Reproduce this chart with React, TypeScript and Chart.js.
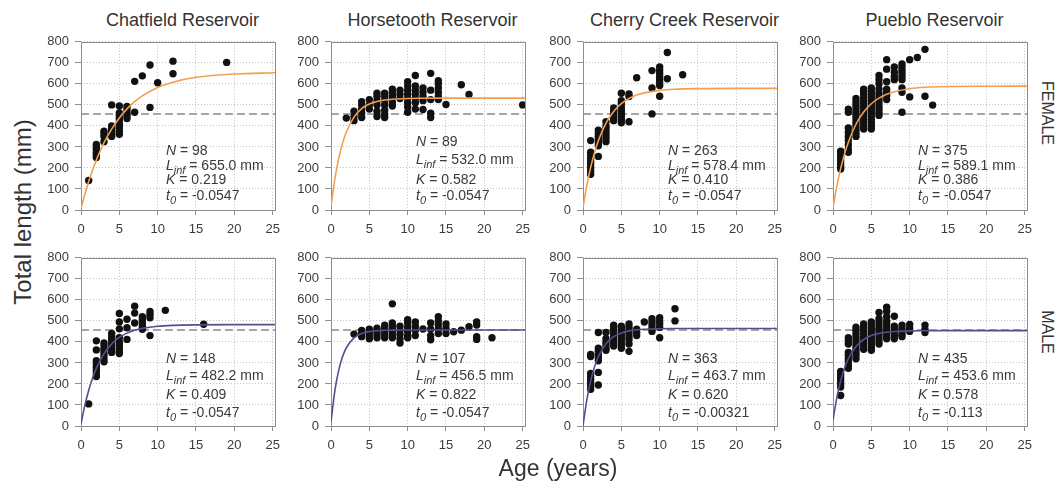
import React, { useEffect, useRef } from "react";
import { Chart, registerables } from "chart.js";

Chart.register(...registerables);

type Group = [number, number[]];

// ---------- data ----------
const AGE_TICKS = [0, 5, 10, 15, 20, 25];
const LENGTH_TICKS = [0, 100, 200, 300, 400, 500, 600, 700, 800];
const X_MAX = 25.3;
const LEGAL_LENGTH = 457;
const CURVE_AGES = [0, 0.5, 1, 1.5, 2, 3, 4, 5, 6, 7, 8, 10, 12, 15, 20, 25.3];

const chatfieldFemale: Group[] = [
  [1, [140]],
  [2, [250, 262, 275, 288, 300, 312]],
  [3, [325, 350, 362, 375]],
  [4, [350, 362, 375, 388, 400, 500]],
  [5, [360, 375, 390, 405, 420, 435, 450, 462, 495]],
  [6, [435, 450, 465, 480, 492]],
  [7, [465, 612]],
  [8, [638]],
  [9, [488, 690]],
  [10, [605]],
  [12, [648, 708]],
  [19, [702]],
];
const horsetoothFemale: Group[] = [
  [2, [437]],
  [3, [425, 445, 470]],
  [4, [440, 460, 480, 500, 515]],
  [5, [480, 500, 525]],
  [6, [445, 470, 500, 520, 540, 555]],
  [7, [440, 455, 475, 500, 520, 540, 555]],
  [8, [495, 510, 530, 545, 560, 575]],
  [9, [530, 550, 570]],
  [10, [465, 490, 510, 530, 550, 570, 590, 610]],
  [11, [480, 510, 530, 550, 570, 590, 640]],
  [12, [478, 520, 540, 560, 580]],
  [13, [440, 460, 525, 570, 650]],
  [14, [525, 540, 560, 580, 600, 615]],
  [15, [502]],
  [17, [596]],
  [18, [549]],
  [25, [500]],
];
const cherryFemale: Group[] = [
  [1, [170, 185, 200, 215, 230, 245, 260, 275, 330]],
  [2, [255, 305, 320, 335, 350, 365, 380]],
  [3, [325, 340, 355, 370, 385, 400, 420]],
  [4, [425, 440, 455, 470, 485]],
  [5, [415, 430, 445, 460, 475, 490, 505, 520, 555]],
  [6, [420, 540, 552]],
  [7, [629]],
  [9, [457, 580, 663]],
  [10, [541, 592, 605, 620, 635, 650, 665, 680]],
  [11, [624, 749]],
  [13, [643]],
];
const puebloFemale: Group[] = [
  [1, [195, 205, 220, 235, 250, 265, 280]],
  [2, [275, 290, 310, 330, 350, 370, 390, 465, 480]],
  [3, [350, 365, 380, 395, 410, 425, 440, 455, 470, 485, 500, 515, 530]],
  [4, [385, 400, 415, 430, 445, 460, 475, 490, 505, 520, 535, 550, 565, 575]],
  [5, [385, 400, 415, 430, 445, 460, 475, 490, 505, 520, 535, 550, 565, 580]],
  [6, [450, 465, 480, 495, 510, 525, 540, 555, 575, 600, 620, 640]],
  [7, [525, 545, 560, 575, 610, 670, 715]],
  [8, [620, 635, 655, 680]],
  [9, [465, 560, 580, 620, 635, 650, 665, 680, 695]],
  [10, [538, 715]],
  [11, [725]],
  [12, [541, 764]],
  [13, [499]],
];
const chatfieldMale: Group[] = [
  [1, [105]],
  [2, [235, 250, 265, 280, 295, 310, 362, 405]],
  [3, [305, 320, 335, 350, 365, 380, 395]],
  [4, [350, 365, 380, 395, 410, 425, 440]],
  [5, [345, 355, 370, 385, 400, 420, 462, 495, 535]],
  [6, [412, 467, 508]],
  [7, [490, 537, 570]],
  [8, [460, 475, 490, 505, 520]],
  [9, [430, 515, 530, 545]],
  [11, [550]],
  [16, [484]],
];
const horsetoothMale: Group[] = [
  [3, [437]],
  [4, [425, 440, 455]],
  [5, [415, 430, 445, 460]],
  [6, [420, 435, 450, 465]],
  [7, [420, 435, 450, 465, 480]],
  [8, [420, 430, 445, 460, 475, 490, 581]],
  [9, [395, 415, 435, 455, 475]],
  [10, [420, 430, 450, 470, 490, 505]],
  [11, [430, 455, 475, 495]],
  [12, [461]],
  [13, [410, 430, 460, 490]],
  [14, [440, 460, 480, 500, 520]],
  [15, [440, 465, 485]],
  [16, [448]],
  [17, [456]],
  [18, [472]],
  [19, [412, 425, 480, 495]],
  [21, [420]],
];
const cherryMale: Group[] = [
  [1, [175, 190, 205, 220, 235, 250, 330, 340]],
  [2, [195, 255, 310, 325, 340, 355, 370, 445]],
  [3, [360, 370, 385, 400, 415, 445]],
  [4, [380, 395, 410, 425, 440, 455, 470, 480]],
  [5, [370, 385, 400, 415, 430, 445, 460, 475]],
  [6, [355, 390, 410, 425, 440, 455, 470, 485]],
  [7, [430, 445, 460]],
  [8, [495]],
  [9, [450, 465, 480, 495, 510]],
  [10, [420, 470, 485, 500, 515]],
  [12, [500, 558]],
];
const puebloMale: Group[] = [
  [1, [145, 185, 200, 215, 230, 245, 260]],
  [2, [275, 290, 305, 320, 335, 350, 390, 405, 420]],
  [3, [320, 335, 350, 365, 380, 395, 410, 425, 440, 455, 470]],
  [4, [365, 380, 395, 410, 425, 440, 455, 470, 485]],
  [5, [360, 375, 390, 405, 420, 435, 450, 465, 480, 495]],
  [6, [390, 405, 420, 435, 450, 465, 480, 495, 510, 540]],
  [7, [415, 425, 440, 455, 470, 485, 500, 520, 545, 565]],
  [8, [415, 430, 445, 460, 475, 522]],
  [9, [425, 435, 450, 465, 480]],
  [10, [450, 465, 483]],
  [12, [445, 460, 480]],
];

// fitted growth curves, read at CURVE_AGES
const chatfieldFemaleCurve = [7.8, 74.9, 135, 189, 237, 320, 385, 438, 481, 515, 543, 583, 608, 631, 647, 652.5];
const horsetoothFemaleCurve = [16.6, 146.8, 244, 317, 371, 442, 482, 504, 516, 523, 527, 530.5, 531.6, 532, 532, 532];
const cherryFemaleCurve = [12.8, 117.6, 203, 272.6, 329, 413, 468.7, 505.6, 530, 546.4, 557.1, 569, 574.3, 577.2, 578.3, 578.4];
const puebloFemaleCurve = [12.3, 113.5, 197, 265.8, 322.6, 407.9, 465.9, 505.4, 532.2, 550.4, 562.8, 577, 583.5, 587.3, 588.8, 589.1];
const chatfieldMaleCurve = [10.7, 97.8, 169, 226.9, 274.1, 344, 390.4, 421.2, 441.7, 455.3, 464.3, 474.3, 478.7, 481.2, 482.1, 482.2];
const horsetoothMaleCurve = [20.1, 167.2, 264.7, 329.3, 372.2, 419.4, 440.2, 449.3, 453.3, 455.1, 455.9, 456.4, 456.5, 456.5, 456.5, 456.5];
const cherryMaleCurve = [0.9, 124.3, 214.7, 281.1, 329.8, 391.6, 424.9, 442.8, 452.5, 457.7, 460.5, 462.8, 463.4, 463.7, 463.7, 463.7];
const puebloMaleCurve = [28.7, 135.3, 215.2, 275.1, 319.9, 378.6, 411.5, 430, 440.4, 446.2, 449.4, 452.3, 453.2, 453.6, 453.6, 453.6];

const RESERVOIRS = ["Chatfield Reservoir", "Horsetooth Reservoir", "Cherry Creek Reservoir", "Pueblo Reservoir"];
const SAMPLE_N = [98, 89, 263, 375, 148, 107, 363, 435];
const L_INF = [655.0, 532.0, 578.4, 589.1, 482.2, 456.5, 463.7, 453.6];
const K_VALUES = [0.219, 0.582, 0.41, 0.386, 0.409, 0.822, 0.62, 0.578];
const T0_VALUES = [-0.0547, -0.0547, -0.0547, -0.0547, -0.0547, -0.0547, -0.00321, -0.113];
const GROUPS = [chatfieldFemale, horsetoothFemale, cherryFemale, puebloFemale, chatfieldMale, horsetoothMale, cherryMale, puebloMale];
const CURVES = [chatfieldFemaleCurve, horsetoothFemaleCurve, cherryFemaleCurve, puebloFemaleCurve, chatfieldMaleCurve, horsetoothMaleCurve, cherryMaleCurve, puebloMaleCurve];

// ---------- layout / style ----------
const FONT = '"Liberation Sans", Arial, Helvetica, sans-serif';
const PLOT_LEFTS = [81, 331, 583, 833];
const ROW_TOPS = [38, 254];
const PLOT_W = 197;
const PLOT_H = 172;
const AXIS_W = 44;
const AXIS_H = 30;
const PAD_T = 10;
const PAD_R = 9;
const CW = AXIS_W + PLOT_W + PAD_R;
const CH = PAD_T + PLOT_H + AXIS_H;
const FEMALE_COLOR = "#f2a04e";
const MALE_COLOR = "#574c8c";
const TEXT_OFFSETS = [
  [109, 124, 138, 154.5],
  [100, 118.5, 138, 154.5],
  [109, 124, 138, 154.5],
  [109, 124, 138, 154.5],
  [101, 118.5, 137, 155],
  [101, 118.5, 137, 155],
  [101, 118.5, 137, 155],
  [101, 118.5, 137, 155],
];

type Run = { t: string; i?: boolean; sub?: boolean };

const framePlugin = {
  id: "frame",
  beforeDatasetsDraw(chart: any) {
    const { ctx, chartArea } = chart;
    const l = Math.round(chartArea.left) + 0.5;
    const t = Math.round(chartArea.top) + 0.5;
    const r = Math.round(chartArea.right) + 0.5;
    const b = Math.round(chartArea.bottom) + 0.5;
    ctx.save();
    ctx.strokeStyle = "#8e8e8e";
    ctx.lineWidth = 1;
    ctx.strokeRect(l, t, r - l, b - t);
    ctx.restore();
  },
};

function makeTextPlugin(idx: number) {
  const lines: Run[][] = [
    [{ t: "N", i: true }, { t: " = " + SAMPLE_N[idx] }],
    [{ t: "L", i: true }, { t: "inf", i: true, sub: true }, { t: " = " + L_INF[idx].toFixed(1) + " mm" }],
    [{ t: "K", i: true }, { t: " = " + K_VALUES[idx].toFixed(3) }],
    [{ t: "t", i: true }, { t: "0", i: true, sub: true }, { t: " = " + String(T0_VALUES[idx]) }],
  ];
  return {
    id: "stats" + idx,
    afterDatasetsDraw(chart: any) {
      const { ctx, chartArea } = chart;
      ctx.save();
      ctx.fillStyle = "#3a3a3a";
      ctx.textBaseline = "middle";
      ctx.textAlign = "left";
      lines.forEach((runs, li) => {
        let x = chartArea.left + 85;
        const y = chartArea.top + TEXT_OFFSETS[idx][li];
        runs.forEach((r) => {
          const size = r.sub ? 11 : 14;
          ctx.font = `${r.i ? "italic " : ""}${size}px ${FONT}`;
          ctx.fillText(r.t, x, y + (r.sub ? 5 : 0));
          x += ctx.measureText(r.t).width;
        });
      });
      ctx.restore();
    },
  };
}

function Panel({ idx }: { idx: number }) {
  const ref = useRef<HTMLCanvasElement>(null);
  const col = idx % 4;
  const row = Math.floor(idx / 4);
  const left = PLOT_LEFTS[col] - AXIS_W;
  const top = ROW_TOPS[row] - PAD_T;

  useEffect(() => {
    const dots: { x: number; y: number }[] = [];
    GROUPS[idx].forEach(([age, vals]) => vals.forEach((v) => dots.push({ x: age, y: v })));
    const curve = CURVE_AGES.map((a, i) => ({ x: a, y: CURVES[idx][i] }));
    const color = row === 0 ? FEMALE_COLOR : MALE_COLOR;
    const tickFont = { family: FONT, size: 13 };

    const chart = new Chart(ref.current as HTMLCanvasElement, {
      type: "scatter",
      data: {
        datasets: [
          {
            type: "line",
            data: curve,
            borderColor: color,
            borderWidth: 1.6,
            pointRadius: 0,
            cubicInterpolationMode: "monotone",
            fill: false,
            order: 0,
          } as any,
          {
            type: "scatter",
            data: dots,
            backgroundColor: "#111111",
            borderColor: "#111111",
            borderWidth: 0,
            pointRadius: 3.7,
            order: 1,
          } as any,
          {
            type: "line",
            data: [
              { x: 0, y: LEGAL_LENGTH },
              { x: X_MAX, y: LEGAL_LENGTH },
            ],
            borderColor: "#8a8a8a",
            borderWidth: 1.5,
            borderDash: [8, 4],
            pointRadius: 0,
            fill: false,
            order: 2,
          } as any,
        ],
      },
      options: {
        responsive: false,
        maintainAspectRatio: false,
        animation: false,
        devicePixelRatio: 1,
        events: [],
        layout: { padding: { top: PAD_T, right: PAD_R, left: 0, bottom: 0 } },
        plugins: {
          legend: { display: false },
          tooltip: { enabled: false },
          title: { display: false },
        },
        scales: {
          x: {
            type: "linear",
            min: 0,
            max: X_MAX,
            afterBuildTicks: (s: any) => {
              s.ticks = AGE_TICKS.map((v) => ({ value: v }));
            },
            afterFit: (s: any) => {
              s.height = AXIS_H;
            },
            grid: {
              color: "#c2c2c2",
              lineWidth: 1,
              drawTicks: true,
              tickLength: 5,
              tickColor: "#8e8e8e",
              tickWidth: 1,
            },
            border: { display: false, dash: [1, 2] },
            ticks: { color: "#3c3c3c", font: tickFont, padding: 7, maxRotation: 0, autoSkip: false },
          },
          y: {
            type: "linear",
            min: 0,
            max: 800,
            afterBuildTicks: (s: any) => {
              s.ticks = LENGTH_TICKS.map((v) => ({ value: v }));
            },
            afterFit: (s: any) => {
              s.width = AXIS_W;
            },
            grid: {
              color: "#c2c2c2",
              lineWidth: 1,
              drawTicks: true,
              tickLength: 6,
              tickColor: "#8e8e8e",
              tickWidth: 1,
            },
            border: { display: false, dash: [1, 2] },
            ticks: { color: "#3c3c3c", font: tickFont, padding: 6, autoSkip: false },
          },
        },
      } as any,
      plugins: [framePlugin, makeTextPlugin(idx)],
    });
    return () => chart.destroy();
  }, [idx]);

  return (
    <canvas
      ref={ref}
      width={CW}
      height={CH}
      style={{ position: "absolute", left, top, width: CW, height: CH }}
    />
  );
}

export default function App() {
  const centered = (cx: number, cy: number, rot: number, size: number): React.CSSProperties => ({
    position: "absolute",
    left: cx,
    top: cy,
    transform: `translate(-50%, -50%) rotate(${rot}deg)`,
    whiteSpace: "nowrap",
    fontSize: size,
    color: "#333",
    lineHeight: 1,
  });
  return (
    <div
      style={{
        position: "absolute",
        left: 0,
        top: 0,
        width: 1058,
        height: 483,
        background: "#ffffff",
        fontFamily: FONT,
        overflow: "hidden",
      }}
    >
      {RESERVOIRS.map((name, i) => (
        <div
          key={name}
          style={{
            position: "absolute",
            left: PLOT_LEFTS[i] + 3,
            width: PLOT_W,
            top: 10,
            textAlign: "center",
            fontSize: 18,
            lineHeight: "21px",
            color: "#333",
            whiteSpace: "nowrap",
          }}
        >
          {name}
        </div>
      ))}
      {[0, 1, 2, 3, 4, 5, 6, 7].map((i) => (
        <Panel key={i} idx={i} />
      ))}
      <div style={centered(23, 212, -90, 24)}>Total length (mm)</div>
      <div style={centered(558, 468, 0, 23)}>Age (years)</div>
      <div style={centered(1047, 113, 90, 16)}>FEMALE</div>
      <div style={centered(1047, 332, 90, 16)}>MALE</div>
    </div>
  );
}
